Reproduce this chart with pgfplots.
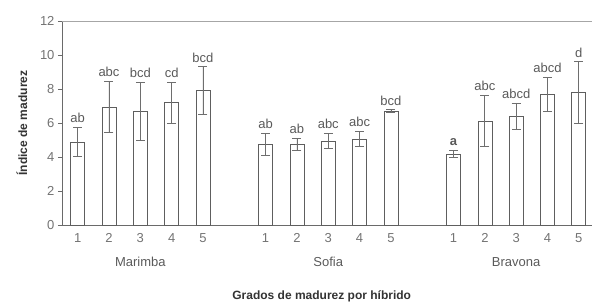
\documentclass[border=0pt]{standalone}
\usepackage{pgfplots}
\pgfplotsset{compat=1.18}
\usepackage{pgfplotstable}
\usepackage{fontspec}
\setmainfont{Liberation Sans}
\definecolor{txt}{HTML}{5A5A5A}
\definecolor{barc}{HTML}{5E5E5E}
\definecolor{errc}{HTML}{6E6E6E}
\definecolor{axc}{HTML}{6A6A6A}
\pgfplotstableread{
x y err lab
0 4.88 0.85 ab
1 6.94 1.50 abc
2 6.70 1.70 bcd
3 7.20 1.20 cd
4 7.90 1.40 bcd
6 4.76 0.65 ab
7 4.76 0.35 ab
8 4.94 0.45 abc
9 5.06 0.45 abc
10 6.70 0.08 bcd
12 4.18 0.20 {\textbf{a}}
13 6.12 1.52 abc
14 6.40 0.78 abcd
15 7.70 1.00 abcd
16 7.80 1.80 d
}\data
\pgfplotstablecreatecol[expr={\thisrow{y}+\thisrow{err}}]{top}\data
\begin{document}
\begin{tikzpicture}
\path[use as bounding box] (-62pt,-77pt) rectangle (530pt,225pt);
\begin{axis}[
  scale only axis,
  width=530pt, height=204pt,
  at={(0,0)}, anchor=south west,
  xmin=-0.5, xmax=16.42,
  ymin=0, ymax=12,
  axis lines*=left,
  axis line style={axc, line width=0.8pt},
  clip=false,
  xtick={0,1,2,3,4,6,7,8,9,10,12,13,14,15,16},
  xticklabels={1,2,3,4,5,1,2,3,4,5,1,2,3,4,5},
  ytick={0,2,4,6,8,10,12},
  x tick style={draw=none},
  y tick style={axc, line width=0.6pt},
  tick align=outside,
  major tick length=4pt,
  /pgf/number format/assume math mode=true,
  tick label style={font=\fontsize{13}{15}\selectfont, text=txt!85},
  xticklabel style={yshift=-1pt},
  xlabel={\textbf{Grados de madurez por híbrido}},
  ylabel={\textbf{Índice de madurez}},
  label style={font=\fontsize{12}{14}\selectfont, text=black!80},
  xlabel style={at={(axis description cs:0.49,0)}, anchor=center, yshift=-71pt},
  ylabel style={at={(axis description cs:-0.0755,0.5)}, anchor=center, rotate=0},
]
\draw[gray!70, line width=0.8pt] (rel axis cs:0,1) -- (rel axis cs:1,1);
\addplot[ybar, bar width=14pt, draw=barc, fill=white, line width=0.7pt,
  error bars/.cd, y dir=both, y explicit,
  error bar style={errc, line width=0.8pt},
  error mark options={rotate=90, mark size=4.5pt, errc, line width=0.8pt}]
  table[x=x, y=y, y error=err] {\data};
\addplot[draw=none, mark=none,
  nodes near coords, point meta=explicit symbolic,
  every node near coord/.append style={font=\fontsize{13}{15}\selectfont, text=txt, anchor=south, yshift=1pt}]
  table[x=x, y=top, meta=lab] {\data};
\node[font=\fontsize{13}{15}\selectfont, text=txt] at (axis cs:2,0) [yshift=-37pt] {Marimba};
\node[font=\fontsize{13}{15}\selectfont, text=txt] at (axis cs:8,0) [yshift=-37pt] {Sofia};
\node[font=\fontsize{13}{15}\selectfont, text=txt] at (axis cs:14,0) [yshift=-37pt] {Bravona};
\end{axis}
\end{tikzpicture}
\end{document}
